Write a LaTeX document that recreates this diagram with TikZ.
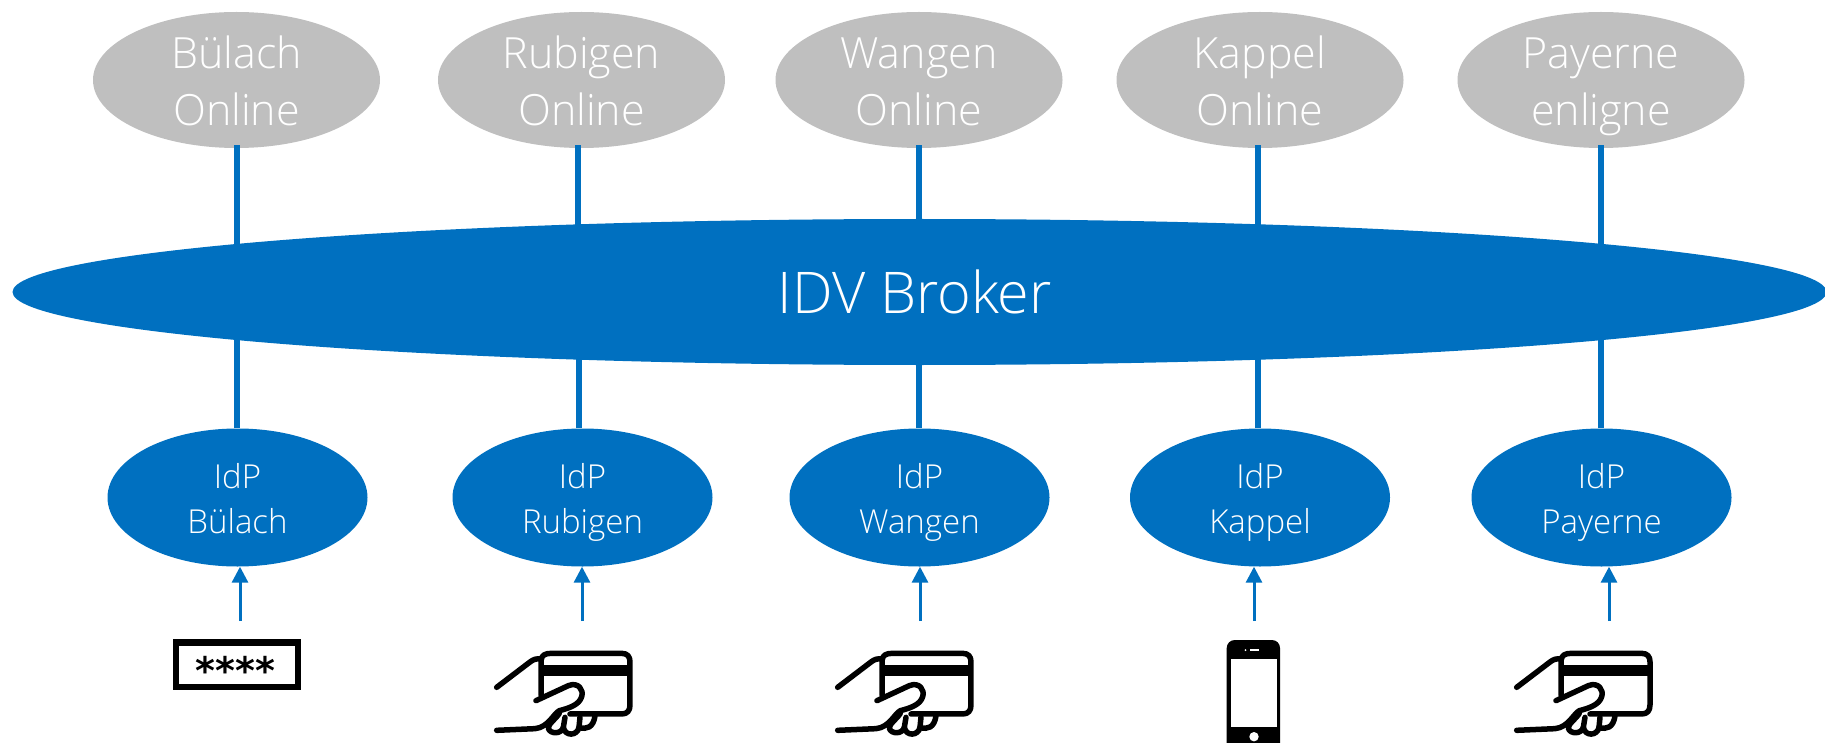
\documentclass[tikz,border=0pt]{standalone}
\usepackage{fontspec}
\setmainfont{Open Sans Light}
\newfontfamily\starfont{DejaVu Sans}
\usetikzlibrary{shapes.geometric,arrows.meta}
\definecolor{idvblue}{HTML}{0070C0}
\definecolor{idvgrey}{HTML}{BFBFBF}
\newcommand\twolines[5]{\raisebox{#5pt}[0pt][0pt]{\fontsize{#3}{#4}\selectfont\begin{tabular}[c]{@{}c@{}}#1\\#2\end{tabular}}}
\tikzset{
  site/.style={ellipse,fill=idvgrey,text=white,minimum width=287pt,minimum height=136pt,inner sep=0pt},
  idp/.style={ellipse,fill=idvblue,text=white,minimum width=260pt,minimum height=138pt,inner sep=0pt},
  broker/.style={ellipse,fill=idvblue,text=white,minimum width=1814pt,minimum height=146pt,inner sep=0pt,font=\fontsize{57.5}{60}\selectfont},
  link/.style={draw=idvblue,line width=6pt},
  auth/.style={draw=idvblue,line width=3pt,-{Triangle[length=16pt,width=16pt]}},
  pen/.style={line width=5.5pt,line cap=round,line join=round},
  pics/cardicon/.style={code={
    \begin{scope}[x=0.3333pt,y=-0.3333pt]
      \fill[black] (185,76) rectangle (450,109);
      \draw[pen] (183,165) -- (183,62) .. controls (185,45) and (195,40) .. (215,40) -- (425,40) .. controls (442,40) and (450,50) .. (450,65) -- (450,195) .. controls (450,212) and (442,222) .. (425,222) -- (270,222);
      \draw[pen] (50,142) -- (150,66) .. controls (160,58) and (170,55) .. (183,57);
      \draw[pen] (168,182) -- (265,137) .. controls (295,125) and (312,150) .. (305,170) .. controls (298,195) and (265,205) .. (238,212) .. controls (220,222) and (205,262) .. (165,266) -- (50,271);
      \draw[pen] (238,220) .. controls (225,240) and (205,250) .. (205,265) .. controls (210,283) and (245,283) .. (250,262) -- (255,232);
      \draw[pen] (250,262) .. controls (255,290) and (292,288) .. (297,262) -- (300,232);
      \draw[pen] (297,262) .. controls (320,270) and (340,262) .. (345,228);
    \end{scope}
  }},
  pics/phoneicon/.style={code={
    \fill[black,rounded corners=8pt] (1226.7,640) rectangle (1280,760);
    \fill[white] (1230.7,659) rectangle (1276.7,726.7);
    \fill[white] (1254,736.7) circle (4.7pt);
    \fill[white] (1250,649.4) rectangle (1259,651);
    \fill[white] (1245.5,650.2) circle (1pt);
  }},
}
\begin{document}
\begin{tikzpicture}[x=1pt,y=-1pt]
\clip (0,0) rectangle (1825,743);
% online services
\node[site] (s1) at (236.5,80) {\twolines{Bülach}{Online}{43}{57}{-12}};
\node[site] (s2) at (581.5,80) {\twolines{Rubigen}{Online}{43}{57}{-12}};
\node[site] (s3) at (919,80) {\twolines{Wangen}{Online}{43}{57}{-12}};
\node[site] (s4) at (1260,80) {\twolines{Kappel}{Online}{43}{57}{-12}};
\node[site] (s5) at (1601,80) {\twolines{Payerne}{enligne}{43}{57}{-12}};
% broker
\node[broker] (b) at (919.5,292) {\hspace*{-9.5pt}IDV Broker};
% identity providers
\node[idp] (i1) at (237.5,497.5) {\twolines{IdP}{Bülach}{33}{45}{-11}};
\node[idp] (i2) at (582.5,497.5) {\twolines{IdP}{Rubigen}{33}{45}{-11}};
\node[idp] (i3) at (919.5,497.5) {\twolines{IdP}{Wangen}{33}{45}{-11}};
\node[idp] (i4) at (1260,497.5) {\twolines{IdP}{Kappel}{33}{45}{-11}};
\node[idp] (i5) at (1601.5,497.5) {\twolines{IdP}{Payerne}{33}{45}{-11}};
% service to broker, broker to provider
\foreach \n/\dx/\dy in {1/0.5/-0.5,2/-3.5/-4,3/-0.5/-0.5,4/-2/-2,5/-0.5/-1}{
  \draw[link,shorten >=40pt] ([xshift=\dx pt,yshift=3pt]s\n.south) -- ([xshift=\dx pt]s\n.south |- b.center);
  \draw[link,shorten >=40pt] ([xshift=\dy pt]i\n.north) -- ([xshift=\dy pt]i\n.north |- b.center);
}
% authentication means
\coordinate (a1) at (240,621);
\coordinate (a2) at (582,621);
\coordinate (a3) at (920,621);
\coordinate (a4) at (1254,621);
\coordinate (a5) at (1609,621);
\foreach \n in {1,...,5}{
  \draw[auth] (a\n) -- (a\n |- i\n.south);
}
\node[draw=black,line width=6.3pt,minimum width=121.4pt,minimum height=44.4pt,inner sep=0pt,font=\starfont\bfseries\fontsize{38}{40}\selectfont] (pw) at (237,664.7) {\raisebox{-20pt}[0pt][0pt]{\hspace*{-3pt}****}};
\pic at (480,640) {cardicon};
\pic at (821,640) {cardicon};
\pic at (1500,640) {cardicon};
\pic at (0,0) {phoneicon};
\end{tikzpicture}
\end{document}
